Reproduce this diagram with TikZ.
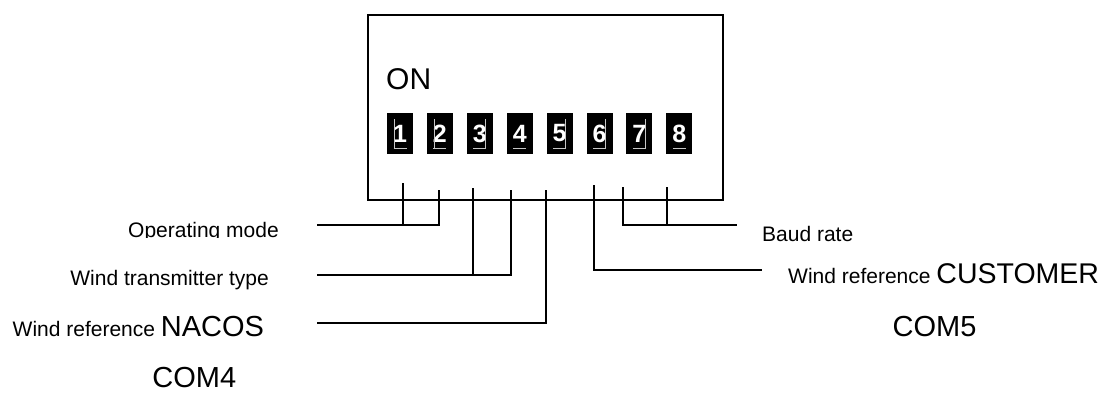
\documentclass[tikz,border=0pt]{standalone}
\usepackage{fontspec}
\setmainfont{Liberation Sans}
\newcommand\fsSmall{\fontsize{21}{25}\selectfont}
\newcommand\fsBig{\fontsize{29}{34}\selectfont}
\tikzset{
  wire/.style={line width=1.7pt, black},
  housing/.style={draw, line width=1.8pt, inner sep=0pt,
    minimum width=355pt, minimum height=185pt},
  switchbox/.style={fill=black, inner sep=0pt, minimum width=26pt,
    minimum height=41pt, text=white,
    font=\bfseries\fontsize{25}{25}\selectfont},
  slide/.style={line width=0.8pt, gray!45},
  txt/.style={inner sep=0pt, font=\fsSmall},
}
\begin{document}
\begin{tikzpicture}[x=1pt, y=-1pt]
  \useasboundingbox (0,0) rectangle (1110,394);
  \clip (0,0) rectangle (1110,394);

  % DIP switch housing
  \node[housing, anchor=north west] (dip) at (367,14) {};
  \node[inner sep=0pt, anchor=base west, font=\fontsize{30}{34}\selectfont]
    (on) at (386,89.5) {ON};

  % the eight switch levers
  \foreach \i/\side in {1/-1,2/-1,3/1,4/0,5/1,6/1,7/1,8/0} {
    \pgfmathsetmacro\cx{400+39.9*(\i-1)}
    \node[switchbox] (s\i) at (\cx,133.5) {\i};
    \draw[slide] (\cx-6.5,148) -- (\cx+6.5,148);
    \ifnum\side=0\else
      \draw[slide] (\cx+6*\side,119) -- (\cx+6*\side,148);
    \fi
  }

  % pin tops
  \coordinate (p1) at (403,183);
  \coordinate (p2) at (439,190);
  \coordinate (p3) at (473,188);
  \coordinate (p4) at (511,190);
  \coordinate (p5) at (546,190);
  \coordinate (p6) at (594,185);
  \coordinate (p7) at (623,187);
  \coordinate (p8) at (667,187);

  % free ends of the leader lines
  \coordinate (eMode) at (317,225);
  \coordinate (eType) at (317,275);
  \coordinate (eNacos) at (317,323);
  \coordinate (eBaud) at (737,225);
  \coordinate (eCust) at (762,270);

  % pin wiring
  \draw[wire] (p1) |- (eMode);
  \draw[wire] (p2) |- (eMode);
  \draw[wire] (p3) |- (eType);
  \draw[wire] (p4) |- (eType);
  \draw[wire] (p5) |- (eNacos);
  \draw[wire] (p6) |- (eCust);
  \draw[wire] (p7) |- (eBaud);
  \draw[wire] (p8) |- (eBaud);

  % labels, left side
  \begin{scope}
    \clip (0,200) rectangle (300,237);
    \node[txt, anchor=base east] (tMode) at (279,237.5) {Operating mode};
  \end{scope}
  \node[txt, anchor=base east] (tType) at (269,285) {Wind transmitter type};
  \node[txt, anchor=base west] (tNacos) at (12.5,336)
    {Wind reference {\fsBig NACOS}};
  \node[inner sep=0pt, anchor=base, font=\fsBig] (tCom4) at (194.3,387.5) {COM4};

  % labels, right side
  \node[txt, anchor=base west] (tBaud) at (762,241.5) {Baud rate};
  \node[txt, anchor=base west] (tCust) at (788,283)
    {Wind reference {\fontsize{28.5}{34}\selectfont CUSTOMER}};
  \node[inner sep=0pt, anchor=base west, font=\fsBig] (tCom5) at (892.5,336) {COM5};
\end{tikzpicture}
\end{document}
